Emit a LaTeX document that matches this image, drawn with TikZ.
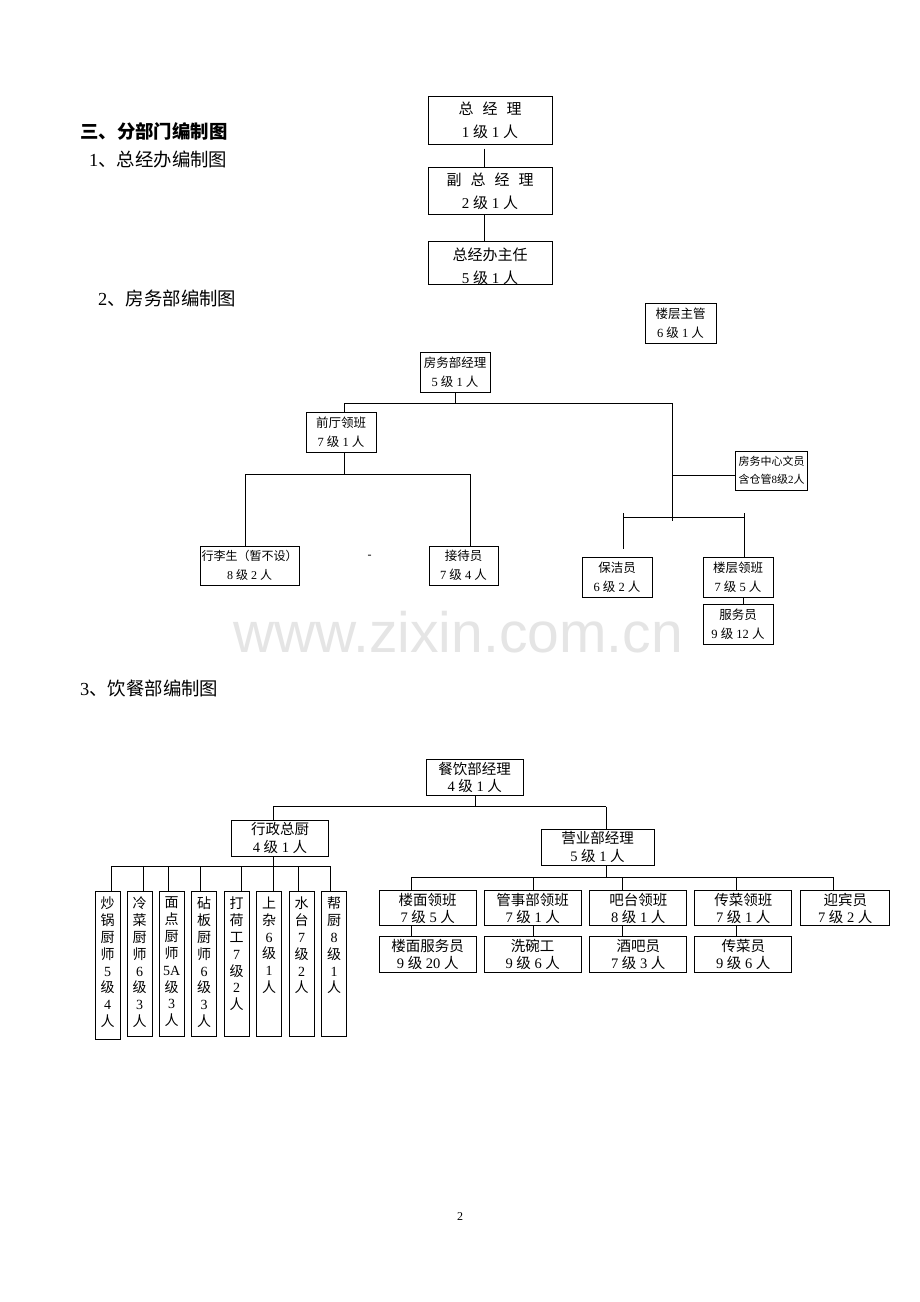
\documentclass[tikz,border=0pt]{standalone}
\usepackage{fontspec}
\setmainfont{Liberation Serif}
\newfontfamily\cjk{Noto Sans CJK SC}
\newfontfamily\wmfont{Liberation Sans}
\XeTeXinterchartokenstate=1
\newXeTeXintercharclass\CJKcls
\newcount\cjkc
\cjkc="3000 \loop\XeTeXcharclass\cjkc=\CJKcls \advance\cjkc by 1 \ifnum\cjkc<"3040 \repeat
\cjkc="4E00 \loop\XeTeXcharclass\cjkc=\CJKcls \advance\cjkc by 1 \ifnum\cjkc<"A000 \repeat
\cjkc="FF00 \loop\XeTeXcharclass\cjkc=\CJKcls \advance\cjkc by 1 \ifnum\cjkc<"FFF0 \repeat
\XeTeXinterchartoks 0 \CJKcls = {\cjk}
\XeTeXinterchartoks 4095 \CJKcls = {\cjk}
\XeTeXinterchartoks \CJKcls 0 = {\rmfamily}
\XeTeXinterchartoks \CJKcls 4095 = {\rmfamily}
\newcommand{\wsp}{\hspace{9pt}}
\begin{document}
\begin{tikzpicture}[x=1pt,y=-1pt,
  ln/.style={line width=1pt},
  box/.style={draw, line width=1pt, inner sep=0pt, align=center},
  sa/.style={box, font=\fontsize{15}{23}\selectfont},
  ta/.style={inner sep=0pt, align=center, font=\fontsize{15}{23}\selectfont},
  sb/.style={box, font=\fontsize{12.5}{19}\selectfont},
  sc/.style={box, font=\fontsize{14.5}{17.3}\selectfont},
  vt/.style={inner sep=0pt, align=center, anchor=north, font=\fontsize{14}{16.9}\selectfont},
  head/.style={inner sep=0pt, anchor=west, font=\fontsize{18.4}{21}\selectfont},
  wm/.style={inner sep=0pt, anchor=base, text=black!10, font=\wmfont\fontsize{57}{57}\selectfont}
]
\path[use as bounding box, fill=white] (0,0) rectangle (920,1302);

% watermark
\node[wm] (wmk) at (458,652) {www.zixin.com.cn};

% headings
\node[head, font=\fontsize{18.4}{21}\selectfont\bfseries] (h0) at (80,131) {三、分部门编制图};
\node[head] (h1) at (89,159) {1、总经办编制图};
\node[head] (h2) at (98,298) {2、房务部编制图};
\node[head] (h3) at (80,688) {3、饮餐部编制图};

% ---------- section 1
\node[sa, minimum width=124, minimum height=48] (gm) at (490,120) {总\wsp 经\wsp 理\\1 级 1 人};
\node[sa, minimum width=124, minimum height=47] (vgm) at (490,191) {副\wsp 总\wsp 经\wsp 理\\2 级 1 人};
\node[box, minimum width=124, minimum height=43] (dir) at (490,262.5) {};
\node[ta] (dirt) at (490,266) {总经办主任\\5 级 1 人};
\draw[ln] ([xshift=-6pt,yshift=-4pt]gm.south) -- ([xshift=-6pt]vgm.north);
\draw[ln] ([xshift=-6pt]vgm.south) -- ([xshift=-6pt]dir.north);

% ---------- section 2
\node[sb, minimum width=71, minimum height=40] (flsup) at (680.5,323) {楼层主管\\6 级 1 人};
\node[sb, minimum width=70, minimum height=40] (hkmgr) at (455,372) {房务部经理\\5 级 1 人};
\node[sb, minimum width=70, minimum height=39.5] (fdlead) at (341,432.5) {前厅领班\\7 级 1 人};
\node[sb, minimum width=99, minimum height=39, font=\fontsize{12}{19}\selectfont] (bell) at (249.5,565.5) {行李生（暂不设）\\8 级 2 人};
\node[sb, minimum width=69, minimum height=39] (recep) at (463.5,565.5) {接待员\\7 级 4 人};
\node[box, minimum width=72, minimum height=39, font=\fontsize{11}{18.5}\selectfont] (clerk) at (771.5,470.5) {房务中心文员\\含仓管8级2人};
\node[sb, minimum width=70, minimum height=40] (clean) at (617,577) {保洁员\\6 级 2 人};
\node[sb, minimum width=70, minimum height=40] (fllead) at (738,577) {楼层领班\\7 级 5 人};
\node[sb, minimum width=70, minimum height=40] (att) at (738,624) {服务员\\9 级 12 人};
\node[inner sep=0pt, font=\fontsize{12}{14}\selectfont] (dash) at (369.5,557) {-};

\coordinate (hm) at (455,403);
\coordinate (hL) at (344,403);
\coordinate (hR) at (672,403);
\coordinate (vB) at (672,521);
\coordinate (j2) at (672,475);
\draw[ln] (hkmgr.south) -- (hm);
\draw[ln] (hL) -- (hR);
\draw[ln] (hL) -- (hL |- fdlead.north);
\draw[ln] (hR) -- (vB);
\draw[ln] (j2) -- (j2 -| clerk.west);
\coordinate (f1) at (344,474);
\coordinate (fL) at (245.6,474);
\coordinate (fR) at (470.5,474);
\draw[ln] (f1 |- fdlead.south) -- (f1);
\draw[ln] (fL) -- (fR);
\draw[ln] (fL) -- (fL |- bell.north);
\draw[ln] (fR) -- (fR |- recep.north);
\coordinate (gL) at (623,517);
\coordinate (gR) at (744,517);
\coordinate (gLe) at (623,549);
\draw[ln] (gL) -- (gR);
\draw[ln] ([yshift=4pt]gL) -- (gLe);
\draw[ln] ([yshift=4pt]gR) -- (gR |- fllead.north);
\draw[ln] ([xshift=5pt]fllead.south) -- ([xshift=5pt]att.north);

% ---------- section 3
\node[sc, minimum width=97.3, minimum height=35.7] (fbm) at (474.7,777.8) {餐饮部经理\\4 级 1 人};
\node[sc, minimum width=96.6, minimum height=36] (chef) at (280,838) {行政总厨\\4 级 1 人};
\node[sc, minimum width=113, minimum height=36] (biz) at (597.5,847) {营业部经理\\5 级 1 人};

\node[sc, minimum width=96.7, minimum height=35] (r1a) at (427.7,908.2) {楼面领班\\7 级 5 人};
\node[sc, minimum width=96.7, minimum height=35] (r1b) at (532.7,908.2) {管事部领班\\7 级 1 人};
\node[sc, minimum width=96.7, minimum height=35] (r1c) at (638.3,908.2) {吧台领班\\8 级 1 人};
\node[sc, minimum width=96.7, minimum height=35] (r1d) at (743.3,908.2) {传菜领班\\7 级 1 人};
\node[sc, minimum width=89.3, minimum height=35] (r1e) at (845.3,908.2) {迎宾员\\7 级 2 人};

\node[sc, minimum width=96.7, minimum height=36] (r2a) at (427.7,954.7) {楼面服务员\\9 级 20 人};
\node[sc, minimum width=96.7, minimum height=36] (r2b) at (532.7,954.7) {洗碗工\\9 级 6 人};
\node[sc, minimum width=96.7, minimum height=36] (r2c) at (638.3,954.7) {酒吧员\\7 级 3 人};
\node[sc, minimum width=96.7, minimum height=36] (r2d) at (743.3,954.7) {传菜员\\9 级 6 人};

\coordinate (k0) at (475.7,806.7);
\coordinate (kL) at (273.3,806.7);
\coordinate (kR) at (606,806.7);
\draw[ln] ([xshift=1pt]fbm.south) -- (k0);
\draw[ln] (kL) -- (kR);
\draw[ln] (kL) -- (kL |- chef.north);
\draw[ln] (kR) -- (kR |- biz.north);
\coordinate (b0) at (606,877.3);
\coordinate (bL) at (411.7,877.3);
\coordinate (bR) at (833.3,877.3);
\draw[ln] (b0 |- biz.south) -- (b0);
\draw[ln] (bL) -- (bR);
\foreach \xx/\nn in {411.7/r1a, 533.3/r1b, 622.3/r1c, 736/r1d, 833.3/r1e}{
  \coordinate (bj) at (\xx,877.3);
  \draw[ln] (bj) -- (bj |- \nn.north);
}
\foreach \xx/\aa/\bb in {411.7/r1a/r2a, 533.3/r1b/r2b, 622.3/r1c/r2c, 736/r1d/r2d}{
  \coordinate (rj) at (\xx,925.7);
  \draw[ln] (rj |- \aa.south) -- (rj |- \bb.north);
}

% kitchen
\node[box, minimum width=25, minimum height=147.6] (k1) at (107.5,965.5) {};
\node[box, minimum width=25, minimum height=145] (k2) at (139.5,964.2) {};
\node[box, minimum width=25, minimum height=145] (k3) at (171.7,964.2) {};
\node[box, minimum width=25, minimum height=145] (k4) at (204.2,964.2) {};
\node[box, minimum width=25, minimum height=145] (k5) at (236.5,964.2) {};
\node[box, minimum width=25, minimum height=145] (k6) at (269.2,964.2) {};
\node[box, minimum width=25, minimum height=145] (k7) at (301.5,964.2) {};
\node[box, minimum width=25, minimum height=145] (k8) at (334.2,964.2) {};
\node[vt] (k1t) at (107.5,896.5) {炒\\锅\\厨\\师\\5\\级\\4\\人};
\node[vt] (k2t) at (139.5,896.5) {冷\\菜\\厨\\师\\6\\级\\3\\人};
\node[vt] (k3t) at (171.7,896.5) {面\\点\\厨\\师\\5A\\级\\3\\人};
\node[vt] (k4t) at (204.2,896.5) {砧\\板\\厨\\师\\6\\级\\3\\人};
\node[vt] (k5t) at (236.5,896.5) {打\\荷\\工\\7\\级\\2\\人};
\node[vt] (k6t) at (269.2,896.5) {上\\杂\\6\\级\\1\\人};
\node[vt] (k7t) at (301.5,896.5) {水\\台\\7\\级\\2\\人};
\node[vt] (k8t) at (334.2,896.5) {帮\\厨\\8\\级\\1\\人};

\coordinate (c0) at (273.3,866);
\coordinate (cL) at (111.7,866);
\coordinate (cR) at (330,866);
\draw[ln] (c0 |- chef.south) -- (c0);
\draw[ln] (cL) -- (cR);
\foreach \xx/\nn in {111.7/k1, 143.3/k2, 168.3/k3, 200.7/k4, 241.7/k5, 273.3/k6, 298.3/k7, 330/k8}{
  \coordinate (cj) at (\xx,866);
  \draw[ln] (cj) -- (cj |- \nn.north);
}

% page number
\node[inner sep=0pt, font=\fontsize{12}{14}\selectfont] (pg) at (460,1217) {2};
\end{tikzpicture}
\end{document}
